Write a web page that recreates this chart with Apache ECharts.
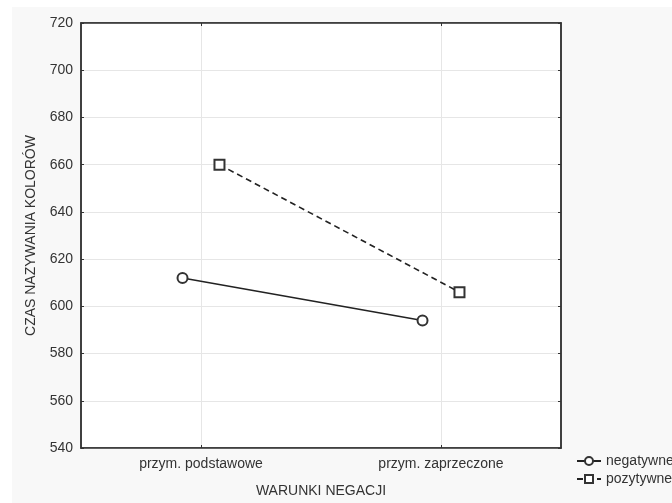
<!DOCTYPE html>
<html><head><meta charset="utf-8">
<script src="https://cdn.jsdelivr.net/npm/echarts@6/dist/echarts.min.js"></script>
<style>html,body{margin:0;padding:0;background:#fff;}#c{width:672px;height:503px;}</style>
</head><body><div id="c"></div>
<script>
// ---- data ----
const categories = ['przym. podstawowe', 'przym. zaprzeczone'];
const seriesNames = ['negatywne', 'pozytywne'];
const negatywne = [612, 594];
const pozytywne = [660, 606];
const yMin = 540, yMax = 720, yStep = 20;
const xAxisName = 'WARUNKI NEGACJI';
const yAxisName = 'CZAS NAZYWANIA KOLORÓW';

// horizontal dodge of the two series around each category (in category-index units)
const DODGE = 0.077;
const toPoints = (vals, off) => vals.map((v, i) => [i + off, v]);

const FONT = '"Liberation Sans", Arial, sans-serif';
const DARK = '#333';

const chart = echarts.init(document.getElementById('c'), null, {renderer: 'canvas'});
chart.setOption({
  animation: false,
  backgroundColor: '#f8f8f8',
  textStyle: {fontFamily: FONT},
  graphic: [
    {type: 'rect', left: 0, top: 0, shape: {width: 672, height: 7}, style: {fill: '#fff'}, silent: true},
    {type: 'rect', left: 0, top: 0, shape: {width: 12, height: 503}, style: {fill: '#fff'}, silent: true}
  ],
  grid: {left: 81, top: 23, right: 111, bottom: 55, show: true, backgroundColor: '#fff',
         borderColor: '#3a3a3a', borderWidth: 1.5, containLabel: false},
  legend: {
    orient: 'vertical', left: 576, top: 454, padding: 0, itemWidth: 24, itemHeight: 10, itemGap: 4,
    data: seriesNames, textStyle: {fontSize: 14, color: DARK, fontFamily: FONT}
  },
  xAxis: [
    {type: 'category', data: categories, position: 'bottom', boundaryGap: true,
     axisLine: {show: true, onZero: false, lineStyle: {color: DARK, width: 1.5}},
     axisTick: {show: true, inside: true, length: 3, alignWithLabel: true, lineStyle: {color: DARK}},
     axisLabel: {fontSize: 14, color: DARK, margin: 9, fontFamily: FONT},
     splitLine: {show: true, alignWithLabel: true, lineStyle: {color: '#e6e6e6', width: 1}},
     name: xAxisName, nameLocation: 'middle', nameGap: 36,
     nameTextStyle: {fontSize: 14, color: DARK, fontFamily: FONT}},
    {type: 'category', data: categories, position: 'top', boundaryGap: true,
     axisLine: {show: true, onZero: false, lineStyle: {color: DARK, width: 1.5}},
     axisTick: {show: true, inside: true, length: 3, alignWithLabel: true, lineStyle: {color: DARK}},
     axisLabel: {show: false}, splitLine: {show: false}},
    {type: 'value', min: -0.5, max: categories.length - 0.5, show: false,
     axisLine: {onZero: false}, splitLine: {show: false}}
  ],
  yAxis: [
    {type: 'value', min: yMin, max: yMax, interval: yStep, position: 'left',
     axisLine: {show: true, onZero: false, lineStyle: {color: DARK, width: 1.5}},
     axisTick: {show: true, inside: true, length: 3, lineStyle: {color: DARK}},
     axisLabel: {fontSize: 14, color: DARK, margin: 8, fontFamily: FONT},
     splitLine: {show: true, lineStyle: {color: '#e6e6e6', width: 1}},
     name: yAxisName, nameLocation: 'middle', nameGap: 43,
     nameTextStyle: {fontSize: 14, color: DARK, fontFamily: FONT}},
    {type: 'value', min: yMin, max: yMax, interval: yStep, position: 'right',
     axisLine: {show: true, onZero: false, lineStyle: {color: DARK, width: 1.5}},
     axisTick: {show: true, inside: true, length: 3, lineStyle: {color: DARK}},
     axisLabel: {show: false}, splitLine: {show: false}}
  ],
  series: [
    {name: seriesNames[0], type: 'line', xAxisIndex: 2, yAxisIndex: 0,
     data: toPoints(negatywne, -DODGE),
     symbol: 'circle', symbolSize: 10, showAllSymbol: true,
     lineStyle: {color: '#222', width: 1.4, type: 'solid'},
     itemStyle: {color: '#fff', borderColor: '#333', borderWidth: 2}},
    {name: seriesNames[1], type: 'line', xAxisIndex: 2, yAxisIndex: 0,
     data: toPoints(pozytywne, DODGE),
     symbol: 'rect', symbolSize: 10, showAllSymbol: true,
     lineStyle: {color: '#222', width: 1.6, type: [6, 4]},
     itemStyle: {color: '#fff', borderColor: '#333', borderWidth: 2}}
  ]
});
</script></body></html>
